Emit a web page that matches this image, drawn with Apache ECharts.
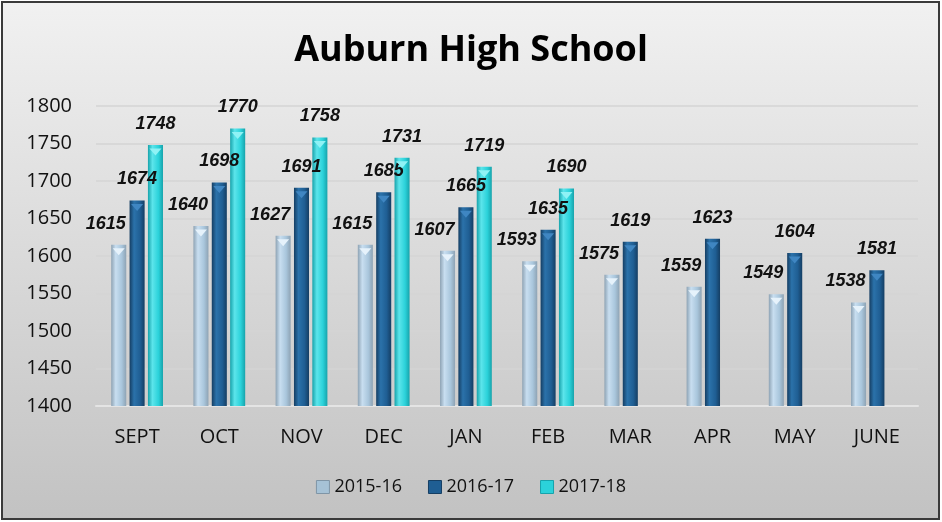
<!DOCTYPE html>
<html>
<head>
<meta charset="utf-8">
<script src="https://cdn.jsdelivr.net/npm/echarts@6/dist/echarts.min.js"></script>
<style>
  html, body { margin: 0; padding: 0; }
  #main { width: 942px; height: 522px; }
</style>
</head>
<body>
<div id="main"></div>
<script>
var months = ['SEPT', 'OCT', 'NOV', 'DEC', 'JAN', 'FEB', 'MAR', 'APR', 'MAY', 'JUNE'];
var year1516 = [1615, 1640, 1627, 1615, 1607, 1593, 1575, 1559, 1549, 1538];
var year1617 = [1674, 1698, 1691, 1685, 1665, 1635, 1619, 1623, 1604, 1581];
var year1718 = [1748, 1770, 1758, 1731, 1719, 1690, null, null, null, null];

var chart = echarts.init(document.getElementById('main'));

// horizontal gradient to fake the cylinder look
function tube(edge, mid, light) {
  return new echarts.graphic.LinearGradient(0, 0, 1, 0, [
    { offset: 0, color: edge },
    { offset: 0.3, color: light },
    { offset: 0.7, color: mid },
    { offset: 1, color: edge }
  ]);
}

var labelStyle = {
  show: true,
  position: 'top',
  distance: 12,
  fontFamily: 'Liberation Sans',
  fontSize: 18,
  fontWeight: 'bold',
  fontStyle: 'italic',
  color: '#111'
};

// small pointed cap drawn on top of each bar
function cap(name, data, color) {
  return {
    name: name,
    type: 'pictorialBar',
    data: data,
    barGap: '22%',
    barCategoryGap: '37%',
    symbol: 'triangle',
    symbolRotate: 180,
    symbolPosition: 'end',
    symbolSize: [12, 7],
    symbolOffset: [0, '50%'],
    z: 5,
    itemStyle: { color: color },
    silent: true
  };
}

var option = {
  animation: false,
  graphic: [{
    type: 'rect',
    z: -10,
    shape: { x: 2, y: 2, width: 937, height: 517 },
    style: {
      fill: new echarts.graphic.LinearGradient(0, 0, 0, 1, [
        { offset: 0, color: '#f1f1f1' },
        { offset: 1, color: '#c2c2c2' }
      ]),
      stroke: '#3a3a3a',
      lineWidth: 2
    }
  }],
  title: {
    text: 'Auburn High School',
    left: 'center',
    top: 28,
    textStyle: {
      fontFamily: 'Open Sans',
      fontSize: 36,
      fontWeight: 'bold',
      color: '#000'
    }
  },
  legend: {
    bottom: 21,
    left: 'center',
    icon: 'rect',
    itemWidth: 13,
    itemHeight: 13,
    itemGap: 26,
    textStyle: { fontFamily: 'Open Sans', fontSize: 18, color: '#111' },
    data: [
      { name: '2015-16', itemStyle: { color: '#a6c2d6', borderColor: '#7f95a6', borderWidth: 1 } },
      { name: '2016-17', itemStyle: { color: '#1f5e93', borderColor: '#153e63', borderWidth: 1 } },
      { name: '2017-18', itemStyle: { color: '#2bd2da', borderColor: '#17a3ab', borderWidth: 1 } }
    ]
  },
  grid: { left: 96, right: 24, top: 106, bottom: 116, containLabel: false },
  xAxis: {
    type: 'category',
    data: months,
    axisLine: { lineStyle: { color: '#e4e4e4', width: 2 } },
    axisTick: { show: false },
    axisLabel: { fontFamily: 'Open Sans', fontSize: 20, color: '#111', margin: 21 }
  },
  yAxis: {
    type: 'value',
    min: 1400,
    max: 1800,
    interval: 50,
    axisLine: { show: false },
    axisTick: { show: false },
    splitLine: { lineStyle: { color: '#d4d4d4', width: 1.5 } },
    axisLabel: {
      fontFamily: 'Open Sans',
      fontSize: 20,
      color: '#111',
      margin: 24,
      formatter: function (v) { return String(v); }
    }
  },
  series: [
    {
      name: '2015-16',
      type: 'bar',
      data: year1516,
      barGap: '22%',
      barCategoryGap: '37%',
      itemStyle: { color: tube('#8ea3b4', '#a9c6dc', '#c8def0') },
      label: Object.assign({}, labelStyle, { offset: [-13, 0] })
    },
    {
      name: '2016-17',
      type: 'bar',
      data: year1617,
      itemStyle: { color: tube('#153e63', '#1f5e93', '#2b72aa') },
      label: labelStyle
    },
    {
      name: '2017-18',
      type: 'bar',
      data: year1718,
      itemStyle: { color: tube('#17a3ab', '#2bd2da', '#5ce5eb') },
      label: labelStyle
    },
    cap('cap-1516', year1516, '#e6f2fb'),
    cap('cap-1617', year1617, '#3f86c2'),
    cap('cap-1718', year1718, '#8ff2f5')
  ]
};

chart.setOption(option);
</script>
</body>
</html>
